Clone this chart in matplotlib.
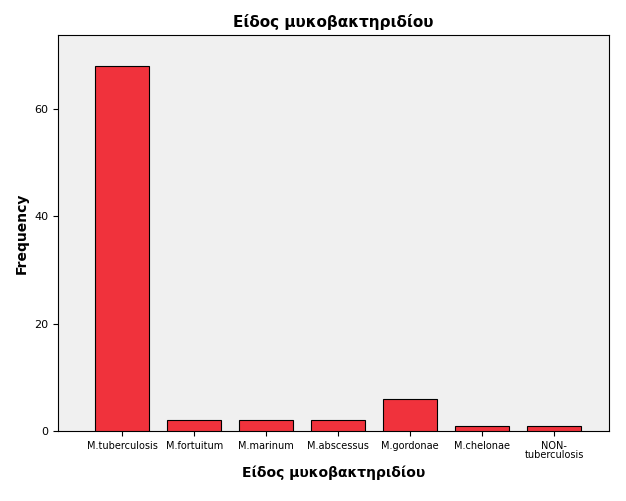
import matplotlib
matplotlib.use("Agg")
import matplotlib.pyplot as plt

categories = ["M.tuberculosis", "M.fortuitum", "M.marinum", "M.abscessus", "M.gordonae", "M.chelonae", "NON-\ntuberculosis"]
values = [68, 2, 2, 2, 6, 1, 1]
yticks = [0, 20, 40, 60]

plt.rcParams['font.family'] = ['DejaVu Sans']
fig = plt.figure(figsize=(6.26, 5.01), dpi=100)
ax = fig.add_axes([58/626, 70/501, 551/626, 396/501])
ax.set_facecolor("#f0f0f0")
x = list(range(len(categories)))
ax.bar(x, values, width=0.75, color="#f0323c", edgecolor="black", linewidth=0.8, zorder=3)
ax.set_xlim(-0.89, 6.76)
ax.set_ylim(0, 73.7)
ax.set_xticks(x)
ax.set_xticklabels(categories, fontsize=7, linespacing=0.9)
ax.set_yticks(yticks)
ax.tick_params(axis='y', labelsize=8)
ax.set_ylabel("Frequency", fontsize=10, fontweight="bold")
ax.set_xlabel("Είδος μυκοβακτηριδίου", fontsize=10, fontweight="bold")
ax.set_title("Είδος μυκοβακτηριδίου", fontsize=11, fontweight="bold")
for s in ax.spines.values():
    s.set_linewidth(0.8)
fig.savefig("out.png", dpi=100)
